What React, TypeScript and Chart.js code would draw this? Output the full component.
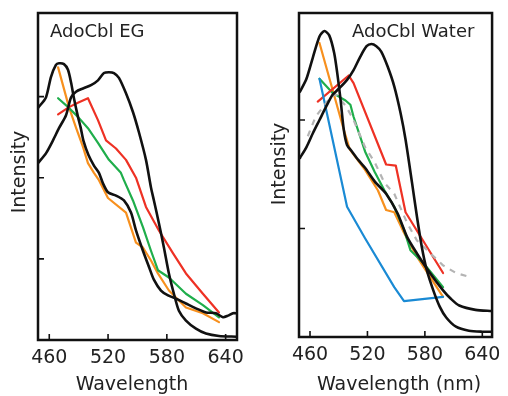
import React, { useEffect, useRef } from 'react';
import { Chart, registerables } from 'chart.js';

Chart.register(...registerables);

const FONT = "'DejaVu Sans', 'Noto Sans', sans-serif";

// ---------- Tick values ----------
const xTickValues = [460, 520, 580, 640];
const egYTicks = [1, 2, 3];
const waterYTicks = [1, 2];

// ---------- AdoCbl EG (left panel) : [wavelength nm, intensity] ----------
const egBlackNarrow = [
  [448.5, 2.86], [456.6, 2.99], [461.7, 3.24], [466.8, 3.39], [469.9, 3.41], [475, 3.4], [479.1, 3.33],
  [482.3, 3.17], [485.2, 2.98], [489.3, 2.75], [492, 2.62], [495, 2.45], [500, 2.28], [505.6, 2.15],
  [510.7, 2.06], [514.8, 1.93], [519.9, 1.82], [528.1, 1.78], [536.2, 1.72], [543.4, 1.57], [548.5, 1.35],
  [555.6, 1.1], [561.8, 0.9], [566.9, 0.74], [574, 0.61], [581.2, 0.55], [589.3, 0.51], [599.5, 0.45],
  [609.7, 0.39], [619.9, 0.34], [630.1, 0.33], [637.3, 0.28], [642.4, 0.3], [647.5, 0.33], [651, 0.33],
];
const egBlackBroad = [
  [448.5, 2.18], [456.6, 2.3], [463.8, 2.46], [469.9, 2.61], [477.1, 2.77], [482.2, 2.99], [487.3, 3.06],
  [494.4, 3.1], [502.6, 3.14], [509.7, 3.2], [515.8, 3.29], [520.9, 3.3], [526, 3.29], [531.1, 3.23],
  [538.3, 3.04], [545.4, 2.81], [551.5, 2.56], [558.7, 2.22], [563.8, 1.88], [566.8, 1.72], [571.9, 1.44],
  [577, 1.14], [582.1, 0.82], [587.2, 0.57], [592.3, 0.36], [599.5, 0.24], [609.7, 0.14], [619.9, 0.08],
  [633.2, 0.05], [651, 0.04],
];
const egOrange = [
  [469, 3.36], [480.1, 2.87], [487.2, 2.62], [494.4, 2.38], [499.5, 2.18], [505.6, 2.06], [510.7, 1.97],
  [519.9, 1.75], [538.3, 1.57], [548.5, 1.2], [555.6, 1.14], [563.8, 0.98], [570.9, 0.82], [582.1, 0.61],
  [599.5, 0.4], [616.8, 0.33], [633.2, 0.22],
];
const egGreen = [
  [469, 2.98], [480.1, 2.86], [489.3, 2.75], [499.5, 2.61], [509.7, 2.43], [520.9, 2.22], [533.1, 2.06],
  [536.2, 1.97], [545.4, 1.72], [555.6, 1.39], [563.8, 1.1], [570.9, 0.86], [582.1, 0.77], [599.5, 0.57],
  [616.8, 0.43], [633.2, 0.28],
];
const egRed = [
  [469, 2.78], [480.1, 2.87], [490.3, 2.93], [499.5, 2.98], [509.7, 2.71], [517.9, 2.46], [528.1, 2.36],
  [538.3, 2.22], [548.5, 2.0], [558.7, 1.64], [571.9, 1.35], [586.2, 1.07], [599.5, 0.82], [616.8, 0.57],
  [633.2, 0.34],
];

// ---------- AdoCbl Water (right panel) ----------
const waterBlackNarrow = [
  [449.5, 2.26], [456.3, 2.38], [463.1, 2.58], [469.9, 2.77], [475, 2.82], [480.1, 2.78], [485.2, 2.62],
  [488.5, 2.43], [492, 2.18], [495.3, 1.91], [498.7, 1.77], [503.8, 1.71], [510.6, 1.63], [517.5, 1.56],
  [527.9, 1.43], [539.5, 1.32], [551.4, 1.14], [561.5, 0.92], [571.7, 0.77], [585.3, 0.59], [599, 0.43],
  [607.4, 0.35], [615.9, 0.29], [632.9, 0.25], [650, 0.24],
];
const waterBlackBroad = [
  [449.5, 1.65], [456.3, 1.75], [463.1, 1.88], [469.9, 2.0], [476.7, 2.12], [483.4, 2.23], [490.3, 2.29],
  [498.7, 2.37], [505.5, 2.46], [512.3, 2.58], [519.1, 2.68], [524.2, 2.7], [529.3, 2.68], [534.4, 2.63],
  [541.2, 2.49], [548, 2.31], [554.7, 2.06], [559.8, 1.82], [566.6, 1.42], [571.7, 1.11], [576.8, 0.83],
  [581.9, 0.62], [588.8, 0.43], [595.5, 0.28], [602.3, 0.18], [612.5, 0.095], [626, 0.058], [639.7, 0.049],
  [650, 0.049],
];
const waterOrange = [
  [469.9, 2.71], [495.3, 1.91], [501.5, 1.73], [517.5, 1.54], [531, 1.35], [539.5, 1.17], [548, 1.15],
  [558.2, 0.96], [571.7, 0.74], [599, 0.37],
];
const waterGreen = [
  [469.9, 2.38], [483.4, 2.25], [497.1, 2.18], [502.2, 2.14], [505.5, 2.03], [517.5, 1.71], [527.6, 1.52],
  [537.8, 1.35], [548, 1.2], [558.2, 0.99], [564.9, 0.8], [578.6, 0.68], [599, 0.46],
];
const waterRed = [
  [468.1, 2.17], [500.4, 2.41], [505.5, 2.34], [539.5, 1.59], [549.6, 1.58], [559.8, 1.15], [599, 0.59],
];
const waterBlue = [
  [469.9, 2.38], [498.7, 1.2], [517.5, 0.91], [548, 0.46], [558.2, 0.33], [599, 0.37],
];
const waterGray = [
  [457.7, 1.85], [465.8, 2.03], [478, 2.17], [486.2, 2.24], [497.4, 2.13], [505.5, 2.0], [517.5, 1.75],
  [527.6, 1.61], [537.8, 1.42], [548, 1.32], [561.5, 1.05], [571.7, 0.89], [599, 0.66], [612.5, 0.59],
  [627.8, 0.55],
];

const BLACK = '#111111';
const ORANGE = '#f7901e';
const GREEN = '#1fae4b';
const RED = '#ee3124';
const BLUE = '#1a8ad4';
const GRAY = '#b4b4b4';

const toXY = (arr: number[][]) => arr.map(([x, y]) => ({ x, y }));

const line = (data: number[][], color: string, width: number, extra: any = {}) => ({
  data: toXY(data),
  borderColor: color,
  backgroundColor: color,
  borderWidth: width,
  pointRadius: 0,
  showLine: true,
  fill: false,
  tension: 0,
  borderJoinStyle: 'round',
  borderCapStyle: 'round',
  ...extra,
});

const framePlugin = {
  id: 'frame',
  afterDraw(chart: any, _args: any, opts: any) {
    const { ctx, chartArea, scales } = chart;
    const { left, top, right, bottom } = chartArea;
    ctx.save();
    ctx.strokeStyle = BLACK;
    ctx.lineWidth = 1.6;
    ctx.beginPath();
    for (const t of scales.x.ticks) {
      const p = scales.x.getPixelForValue(t.value);
      if (p > left + 2 && p < right - 2) {
        ctx.moveTo(p, bottom);
        ctx.lineTo(p, bottom - 6);
      }
    }
    for (const t of scales.y.ticks) {
      const p = scales.y.getPixelForValue(t.value);
      if (p > top + 2 && p < bottom - 2) {
        ctx.moveTo(left, p);
        ctx.lineTo(left + 6, p);
      }
    }
    ctx.stroke();
    ctx.lineWidth = 2.5;
    ctx.strokeRect(left, top, right - left, bottom - top);

    ctx.fillStyle = '#222';
    ctx.font = `18px ${FONT}`;
    ctx.textAlign = 'left';
    ctx.textBaseline = 'alphabetic';
    ctx.fillText(opts.label, opts.labelX, opts.labelY);

    ctx.font = `19px ${FONT}`;
    ctx.textAlign = 'center';
    ctx.fillText(opts.xTitle, opts.xTitleX, opts.xTitleY);

    ctx.translate(opts.yTitleX, opts.yTitleY);
    ctx.rotate(-Math.PI / 2);
    ctx.textBaseline = 'middle';
    ctx.fillText(opts.yTitle, 0, 0);
    ctx.restore();
  },
};

function makeConfig(p: any) {
  return {
    type: 'scatter',
    data: { datasets: p.datasets },
    options: {
      animation: false,
      responsive: false,
      maintainAspectRatio: false,
      layout: { padding: { left: 0, top: p.padTop, right: p.padRight, bottom: 0 } },
      plugins: {
        legend: { display: false },
        tooltip: { enabled: false },
        frame: p.frame,
      },
      scales: {
        x: {
          type: 'linear',
          min: p.xMin,
          max: p.xMax,
          grid: { display: false, drawTicks: false },
          border: { display: false },
          afterBuildTicks: (s: any) => {
            s.ticks = xTickValues.map((v) => ({ value: v }));
          },
          afterFit: (s: any) => {
            s.height = p.xHeight;
          },
          ticks: {
            autoSkip: false,
            maxRotation: 0,
            padding: 7,
            color: '#222',
            font: { family: FONT, size: 19 },
            callback: (v: any) => String(v),
          },
        },
        y: {
          type: 'linear',
          min: 0,
          max: p.yMax,
          grid: { display: false, drawTicks: false },
          border: { display: false },
          afterBuildTicks: (s: any) => {
            s.ticks = p.yTicks.map((v: number) => ({ value: v }));
          },
          afterFit: (s: any) => {
            s.width = p.yWidth;
          },
          ticks: { display: false },
        },
      },
    },
    plugins: [framePlugin],
  };
}

const egConfig = () =>
  makeConfig({
    xMin: 448.5,
    xMax: 651.6,
    yMax: 4.03,
    yTicks: egYTicks,
    padTop: 13,
    padRight: 17,
    xHeight: 56,
    yWidth: 38,
    frame: {
      label: 'AdoCbl EG',
      labelX: 50,
      labelY: 37,
      xTitle: 'Wavelength',
      xTitleX: 132,
      xTitleY: 390,
      yTitle: 'Intensity',
      yTitleX: 20,
      yTitleY: 172,
    },
    datasets: [
      line(egBlackNarrow, BLACK, 2.6, { tension: 0.25 }),
      line(egBlackBroad, BLACK, 2.6, { tension: 0.25 }),
      line(egRed, RED, 2.2),
      line(egGreen, GREEN, 2.2),
      line(egOrange, ORANGE, 2.2),
    ],
  });

const waterConfig = () =>
  makeConfig({
    xMin: 448.5,
    xMax: 650.2,
    yMax: 2.986,
    yTicks: waterYTicks,
    padTop: 13,
    padRight: 11,
    xHeight: 59,
    yWidth: 45,
    frame: {
      label: 'AdoCbl Water',
      labelX: 98,
      labelY: 37,
      xTitle: 'Wavelength (nm)',
      xTitleX: 145,
      xTitleY: 390,
      yTitle: 'Intensity',
      yTitleX: 26,
      yTitleY: 164,
    },
    datasets: [
      line(waterBlackNarrow, BLACK, 2.6, { tension: 0.25 }),
      line(waterBlackBroad, BLACK, 2.6, { tension: 0.25 }),
      line(waterGray, GRAY, 2.2, { borderDash: [6, 6], borderCapStyle: 'butt' }),
      line(waterBlue, BLUE, 2.2),
      line(waterRed, RED, 2.2),
      line(waterGreen, GREEN, 2.2),
      line(waterOrange, ORANGE, 2.2),
    ],
  });

function Panel({ make, left }: { make: () => any; left: number }) {
  const ref = useRef<HTMLCanvasElement | null>(null);
  useEffect(() => {
    if (!ref.current) return;
    const chart = new Chart(ref.current, make());
    return () => chart.destroy();
  }, [make]);
  return (
    <canvas
      ref={ref}
      width={254}
      height={396}
      style={{ position: 'absolute', left, top: 0, width: 254, height: 396 }}
    />
  );
}

export default function App() {
  return (
    <div style={{ position: 'absolute', left: 0, top: 0, width: 508, height: 396, background: '#fff' }}>
      <Panel make={egConfig} left={0} />
      <Panel make={waterConfig} left={254} />
    </div>
  );
}
